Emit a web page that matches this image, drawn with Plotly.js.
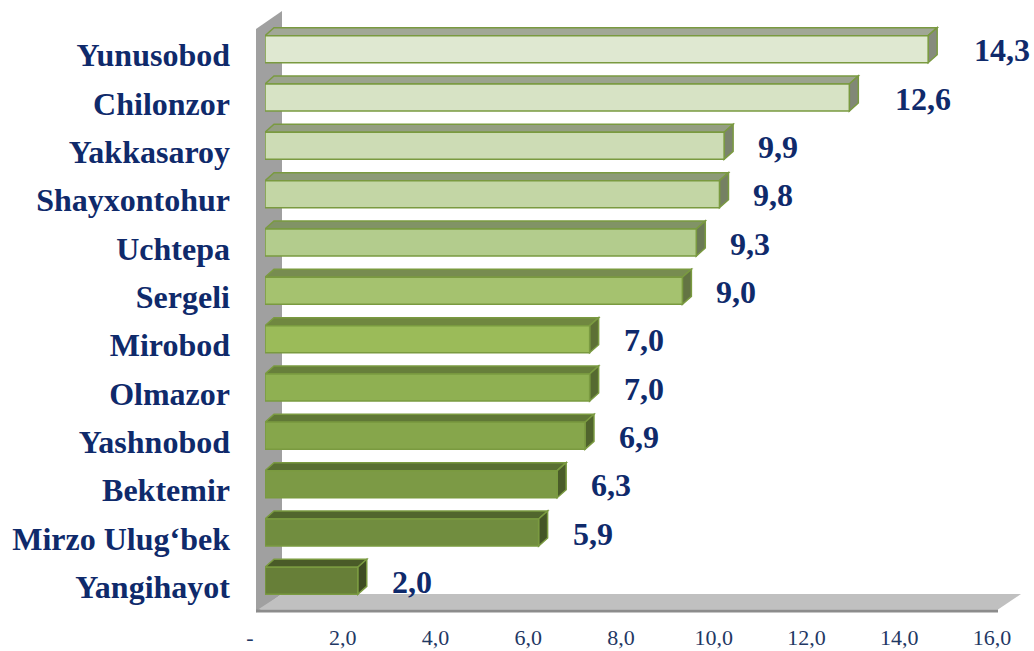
<!DOCTYPE html>
<html><head><meta charset="utf-8">
<script src="https://cdn.plot.ly/plotly-3.0.1.min.js"></script>
<style>html,body{margin:0;padding:0;background:#fff}</style>
</head><body><div id="chart" style="width:1034px;height:651px"></div>
<script>
// ---- data ----
const districts = ["Yunusobod","Chilonzor","Yakkasaroy","Shayxontohur","Uchtepa","Sergeli","Mirobod","Olmazor","Yashnobod","Bektemir","Mirzo Ulug‘bek","Yangihayot"];
const values = [14.3,12.6,9.9,9.8,9.3,9.0,7.0,7.0,6.9,6.3,5.9,2.0];
const barColors = ["#dfe8d1","#d7e3c5","#cddcb5","#c3d6a5","#b3cc8d","#a5c26f","#9bbb59","#8fb052","#86a64b","#7c9a45","#718d3f","#677f38"];
const tickValues = [0,2,4,6,8,10,12,14,16];
const tickLabels = ["-","2,0","4,0","6,0","8,0","10,0","12,0","14,0","16,0"];

// ---- layout geometry ----
const W = 1034, H = 651;
const M = {l:265, r:27, t:25, b:46};
const xRange = [0,16];
const pxPerUnit = (W - M.l - M.r) / (xRange[1] - xRange[0]);
const pitch = (H - M.t - M.b) / districts.length;
const barFrac = 0.56;
const hh = barFrac * pitch / 2;
const dx = 9, dy = 8;
const outline = "#7a9a40";
const serif = "Liberation Serif, Times New Roman, serif";

function shade(hex, f) {
  const n = parseInt(hex.slice(1), 16);
  const r = Math.round(((n >> 16) & 255) * f), g = Math.round(((n >> 8) & 255) * f), b = Math.round((n & 255) * f);
  return "rgb(" + r + "," + g + "," + b + ")";
}
const fmt = v => v.toFixed(1).replace(".", ",");

const shapes = [];
// back wall (left)
shapes.push({type:"path", layer:"below", xref:"paper", yref:"paper", xsizemode:"pixel", ysizemode:"pixel", xanchor:0, yanchor:0,
  path:"M-9,-7.6 L-9,576 L17,594 L17,11 Z", fillcolor:"#a0a0a0", line:{width:0}});
// floor
shapes.push({type:"path", layer:"below", xref:"paper", yref:"paper", xsizemode:"pixel", ysizemode:"pixel", xanchor:0, yanchor:0,
  path:"M-7,-4.6 L17,11 L756,11 L733,-4.6 Z", fillcolor:"#c0c0c0", line:{width:0}});
shapes.push({type:"path", layer:"below", xref:"paper", yref:"paper", xsizemode:"pixel", ysizemode:"pixel", xanchor:0, yanchor:0,
  path:"M-9,-4.6 L733,-4.6 L733,-7.6 L-9,-7.6 Z", fillcolor:"#8c8c8c", line:{width:0}});

// 3D top and side faces of each bar
values.forEach((v, i) => {
  const L = v * pxPerUnit;
  shapes.push({type:"path", layer:"below", xref:"x", yref:"y", xsizemode:"pixel", ysizemode:"pixel", xanchor:0, yanchor:i,
    path:`M0,${hh} L${L},${hh} L${L+dx},${hh+dy} L${dx},${hh+dy} Z`,
    fillcolor:shade(barColors[i], 0.72), line:{color:outline, width:1.5}});
  shapes.push({type:"path", layer:"below", xref:"x", yref:"y", xsizemode:"pixel", ysizemode:"pixel", xanchor:0, yanchor:i,
    path:`M${L},${hh} L${L+dx},${hh+dy} L${L+dx},${-hh+dy} L${L},${-hh} Z`,
    fillcolor:shade(barColors[i], 0.6), line:{color:outline, width:1.5}});
});

const annotations = values.map((v, i) => {
  const label = fmt(v);
  return {
    x: v, y: i, xref:"x", yref:"y", text: label, showarrow:false,
    xanchor:"left", yanchor:"middle", xshift: 32 + 12 * (label.length - 3), yshift: -1,
    font:{family:serif, size:32, color:"#0f2a6b", weight:"bold"}
  };
});

const trace = {
  type:"bar", orientation:"h",
  x: values, y: districts.map((d, i) => i),
  width: barFrac,
  marker:{color: barColors, line:{color: outline, width:1.5}},
  hoverinfo:"none"
};

const layout = {
  width: W, height: H,
  margin: {l:M.l, r:M.r, t:M.t, b:M.b, autoexpand:false},
  paper_bgcolor:"#ffffff", plot_bgcolor:"rgba(0,0,0,0)",
  showlegend:false,
  xaxis:{range:xRange, tickvals:tickValues, ticktext:tickLabels, showgrid:false, zeroline:false, showline:false,
    ticks:"", ticklabelstandoff:17, ticklabelshift:-15,
    tickfont:{family:serif, size:22, color:"#1f3864"}},
  yaxis:{range:[districts.length - 0.5, -0.5], tickvals: districts.map((d, i) => i), ticktext: districts,
    showgrid:false, zeroline:false, showline:false, ticks:"", ticklabelstandoff:34, ticklabelshift:-6,
    tickfont:{family:serif, size:32, color:"#0f2a6b", weight:"bold"}},
  shapes: shapes,
  annotations: annotations
};

Plotly.newPlot("chart", [trace], layout, {displayModeBar:false, staticPlot:true});
</script>
</body></html>
